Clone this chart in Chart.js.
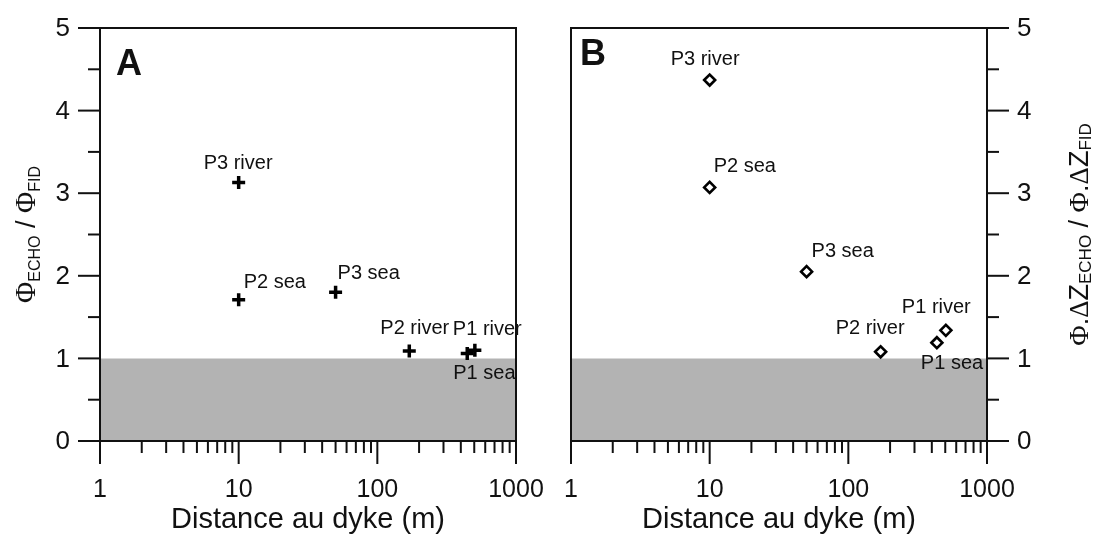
<!DOCTYPE html>
<html>
<head>
<meta charset="utf-8">
<script src="https://cdn.jsdelivr.net/npm/chart.js@4"></script>
<style>
  html, body { margin: 0; padding: 0; background: #fff; }
  #wrap { position: relative; width: 1101px; height: 535px; overflow: hidden; }
  canvas { position: absolute; top: 0; }
  #chartA { left: 0; }
  #chartB { left: 550px; }
</style>
</head>
<body>
<div id="wrap">
  <canvas id="chartA" width="550" height="535"></canvas>
  <canvas id="chartB" width="551" height="535"></canvas>
</div>
<script>
(function () {
    // ─── Data ─────────────────────────────────────────────────────
    const siteNames = ['P3 river', 'P2 sea', 'P3 sea', 'P2 river', 'P1 sea', 'P1 river'];

    const distanceA = [10, 10, 50, 170, 445, 505];
    const ratioA = [3.13, 1.71, 1.80, 1.09, 1.06, 1.10];

    const distanceB = [10, 10, 50, 171, 435, 505];
    const ratioB = [4.37, 3.07, 2.05, 1.08, 1.19, 1.34];

    const bandX = [1, 1000];
    const bandY = [1, 1];

    const xMajorTicks = [1, 10, 100, 1000];
    const xTickLabels = ['1', '10', '100', '1000'];
    const xMinorTicks = [2, 3, 4, 5, 6, 7, 8, 9, 20, 30, 40, 50, 60, 70, 80, 90, 200, 300, 400, 500, 600, 700, 800, 900];
    const yMajorTicks = [0, 1, 2, 3, 4, 5];
    const yTickLabels = ['0', '1', '2', '3', '4', '5'];
    const yMinorTicks = [0.5, 1.5, 2.5, 3.5, 4.5];

    // ─── Styles ───────────────────────────────────────────────────
    const INK = '#111';
    const GREY = '#b3b3b3';
    const SANS = '"Liberation Sans", Arial, sans-serif';
    const SERIF = '"Liberation Serif", "Times New Roman", serif';

    // label offsets in px from the marker (left edge of text, vertical centre)
    const offsetsA = [[-35, -19], [5, -17], [2, -19], [-29, -22], [-14, 20], [-22, -21]];
    const offsetsB = [[-39, -21], [4, -21], [5, -20], [-45, -23], [-16, 21], [-44, -23]];

    const titleA = [
        { t: 'Φ', f: `29px ${SERIF}` },
        { t: 'ECHO', f: `16px ${SANS}`, dy: 5 },
        { t: ' / ', f: `27px ${SANS}` },
        { t: 'Φ', f: `29px ${SERIF}` },
        { t: 'FID', f: `16px ${SANS}`, dy: 5 },
    ];
    const titleB = [
        { t: 'Φ', f: `28px ${SERIF}` },
        { t: '.', f: `27px ${SANS}` },
        { t: 'Δ', f: `27px ${SERIF}` },
        { t: 'Z', f: `27px ${SANS}` },
        { t: 'ECHO', f: `17px ${SANS}`, dy: 3 },
        { t: ' / ', f: `27px ${SANS}` },
        { t: 'Φ', f: `28px ${SERIF}` },
        { t: '.', f: `27px ${SANS}` },
        { t: 'Δ', f: `27px ${SERIF}` },
        { t: 'Z', f: `27px ${SANS}` },
        { t: 'FID', f: `17px ${SANS}`, dy: 3 },
    ];

    function line(ctx, x1, y1, x2, y2) {
        ctx.beginPath(); ctx.moveTo(x1, y1); ctx.lineTo(x2, y2); ctx.stroke();
    }

    function drawRich(ctx, parts, cx, cy) {
        let w = 0;
        parts.forEach((p) => { ctx.font = p.f; w += ctx.measureText(p.t).width; });
        ctx.save();
        ctx.translate(cx, cy);
        ctx.rotate(-Math.PI / 2);
        ctx.textBaseline = 'alphabetic';
        ctx.textAlign = 'left';
        let x = -w / 2;
        parts.forEach((p) => {
            ctx.font = p.f;
            ctx.fillText(p.t, x, p.dy || 0);
            x += ctx.measureText(p.t).width;
        });
        ctx.restore();
    }

    // ─── Axes, frame and text drawn from the chart's own scales ───
    const panelDecor = {
        id: 'panelDecor',
        afterDatasetsDraw(chart, args, o) {
            const { ctx, chartArea: a, scales: { x, y } } = chart;
            ctx.save();
            ctx.fillStyle = INK;

            // point labels
            const meta = chart.getDatasetMeta(1);
            ctx.font = `20px ${SANS}`;
            ctx.textAlign = 'left';
            ctx.textBaseline = 'middle';
            meta.data.forEach((pt, i) => {
                const [dx, dy] = o.offsets[i];
                ctx.fillText(siteNames[i], pt.x + dx, pt.y + dy);
            });

            // frame
            ctx.strokeStyle = INK;
            ctx.lineWidth = 2;
            ctx.strokeRect(a.left, a.top, a.right - a.left, a.bottom - a.top);

            // x ticks
            xMajorTicks.forEach((v) => { const px = x.getPixelForValue(v); line(ctx, px, a.bottom, px, a.bottom + 23); });
            xMinorTicks.forEach((v) => { const px = x.getPixelForValue(v); line(ctx, px, a.bottom, px, a.bottom + 12); });
            ctx.font = `25px ${SANS}`;
            ctx.textAlign = 'center';
            ctx.textBaseline = 'alphabetic';
            xMajorTicks.forEach((v, i) => ctx.fillText(xTickLabels[i], x.getPixelForValue(v), a.bottom + 56));

            // y ticks
            const left = o.side === 'left';
            const ax = left ? a.left : a.right;
            const dir = left ? -1 : 1;
            yMajorTicks.forEach((v) => { const py = y.getPixelForValue(v); line(ctx, ax, py, ax + dir * 22, py); });
            yMinorTicks.forEach((v) => { const py = y.getPixelForValue(v); line(ctx, ax, py, ax + dir * 12, py); });
            ctx.font = `26px ${SANS}`;
            ctx.textAlign = left ? 'right' : 'left';
            ctx.textBaseline = 'middle';
            yMajorTicks.forEach((v, i) => ctx.fillText(yTickLabels[i], ax + dir * 30, y.getPixelForValue(v) + 1));

            // x title
            ctx.font = `29px ${SANS}`;
            ctx.textAlign = 'center';
            ctx.textBaseline = 'alphabetic';
            ctx.fillText('Distance au dyke (m)', (a.left + a.right) / 2, a.bottom + 87);

            // panel letter
            ctx.font = `bold 36px ${SANS}`;
            ctx.textAlign = 'left';
            ctx.fillText(o.letter, a.left + o.letterDx, a.top + o.letterDy);

            // y title
            drawRich(ctx, o.title, o.titleX, (a.top + a.bottom) / 2);
            ctx.restore();
        },
    };

    function makePanel(id, xs, ys, marker, decor, pad) {
        return new Chart(document.getElementById(id), {
            type: 'scatter',
            data: {
                datasets: [
                    {
                        type: 'line',
                        data: bandX.map((v, i) => ({ x: v, y: bandY[i] })),
                        fill: 'origin',
                        backgroundColor: GREY,
                        borderWidth: 0,
                        pointRadius: 0,
                        order: 2,
                    },
                    {
                        data: xs.map((v, i) => ({ x: v, y: ys[i] })),
                        order: 1,
                        ...marker,
                    },
                ],
            },
            options: {
                responsive: false,
                animation: false,
                events: [],
                layout: { padding: pad },
                plugins: { legend: { display: false }, tooltip: { enabled: false }, panelDecor: decor },
                scales: {
                    x: { type: 'logarithmic', min: 1, max: 1000, display: false },
                    y: { type: 'linear', min: 0, max: 5, display: false },
                },
            },
            plugins: [panelDecor],
        });
    }

    makePanel('chartA', distanceA, ratioA,
        { pointStyle: 'cross', pointRadius: 6.5, borderWidth: 3.5, borderColor: '#000' },
        { side: 'left', offsets: offsetsA, letter: 'A', letterDx: 16, letterDy: 47, title: titleA, titleX: 35 },
        { left: 100, right: 34, top: 28, bottom: 94 });

    makePanel('chartB', distanceB, ratioB,
        { pointStyle: 'rectRot', pointRadius: 5.5, borderWidth: 2.6, borderColor: '#000', backgroundColor: '#fff' },
        { side: 'right', offsets: offsetsB, letter: 'B', letterDx: 9, letterDy: 37, title: titleB, titleX: 538 },
        { left: 21, right: 114, top: 28, bottom: 94 });
})();
</script>
</body>
</html>
